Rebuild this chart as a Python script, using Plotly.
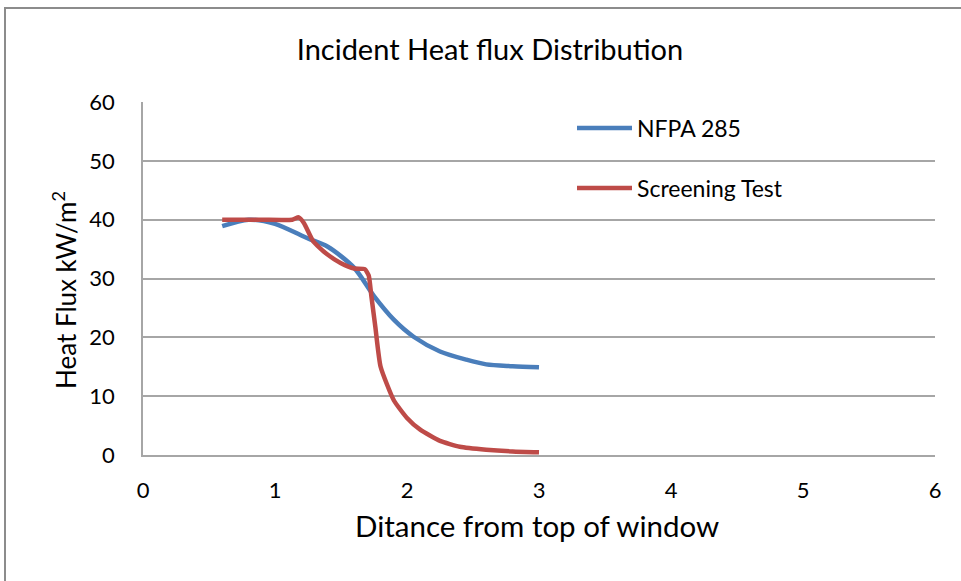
import plotly.graph_objects as go

# Data
nfpa_x = [0.6, 0.8, 1.0, 1.25, 1.4, 1.6, 1.75, 1.9, 2.05, 2.25, 2.45, 2.6, 2.8, 3.0]
nfpa_y = [38.9, 40.0, 39.3, 36.8, 35.4, 31.8, 27.0, 23.0, 20.1, 17.6, 16.2, 15.4, 15.1, 14.9]

screen_x = [0.6, 0.9, 1.13, 1.18, 1.22, 1.29, 1.39, 1.5, 1.6, 1.68, 1.71, 1.73, 1.76, 1.8, 1.9, 2.0, 2.1, 2.25, 2.4, 2.6, 2.8, 3.0]
screen_y = [40.0, 40.0, 40.0, 40.4, 39.4, 36.3, 34.2, 32.6, 31.7, 31.6, 30.5, 27.0, 21.8, 15.0, 9.3, 6.3, 4.3, 2.4, 1.4, 0.9, 0.6, 0.45]

x_ticks = [0, 1, 2, 3, 4, 5, 6]
y_ticks = [0, 10, 20, 30, 40, 50, 60]

FONT = "Lato"
W, H = 961, 581
L, R, T, B = 143, 26, 102, 126
pw, ph = W - L - R, H - T - B


def px_x(p):
    return (p - L) / pw


def px_y(p):
    return (T + ph - p) / ph


fig = go.Figure()
fig.add_trace(go.Scatter(x=nfpa_x, y=nfpa_y, mode="lines", name="NFPA 285",
                         line=dict(color="#4A7EBB", width=4.5, shape="spline", smoothing=0.8),
                         legend="legend"))
fig.add_trace(go.Scatter(x=screen_x, y=screen_y, mode="lines", name="Screening Test",
                         line=dict(color="#BE4B48", width=4.5, shape="spline", smoothing=0.5),
                         legend="legend2"))

leg_common = dict(xanchor="left", yanchor="middle", bgcolor="rgba(0,0,0,0)",
                  font=dict(size=23, family=FONT, color="black"), itemwidth=55)

fig.update_layout(
    width=W, height=H,
    margin=dict(l=L, r=R, t=T, b=B),
    paper_bgcolor="white", plot_bgcolor="white",
    font=dict(family=FONT, color="black"),
    title=dict(text="Incident Heat flux Distribution", x=490 / W, xanchor="center",
               y=1 - 50 / H, yanchor="middle", font=dict(size=29, family=FONT, color="black")),
    showlegend=True,
    legend=dict(x=px_x(572), y=px_y(128), **leg_common),
    legend2=dict(x=px_x(572), y=px_y(188), **leg_common),
    xaxis=dict(range=[0, 6], tickvals=x_ticks, showgrid=False, zeroline=False,
               showline=True, linecolor="#A6A6A6", linewidth=1.5,
               ticks="", tickfont=dict(size=22, family=FONT, color="black"),
               ticklabelstandoff=15),
    yaxis=dict(range=[0, 60], tickvals=y_ticks, showgrid=True, gridcolor="#A6A6A6", gridwidth=1.5,
               zeroline=False, showline=True, linecolor="#A6A6A6", linewidth=1.5,
               ticks="", tickfont=dict(size=22, family=FONT, color="black"),
               ticklabelstandoff=22),
    annotations=[
        dict(text="Ditance from top of window", xref="paper", yref="paper",
             x=px_x(537), y=px_y(525), xanchor="center", yanchor="middle", showarrow=False,
             font=dict(size=29.5, family=FONT, color="black")),
        dict(text="Heat Flux kW/m<sup>2</sup>", xref="paper", yref="paper", textangle=-90,
             x=px_x(64), y=px_y(290), xanchor="center", yanchor="middle", showarrow=False,
             font=dict(size=26, family=FONT, color="black")),
    ],
)

# outer chart border
fig.add_shape(type="rect", xref="paper", yref="paper",
              x0=px_x(5), x1=px_x(W + 20), y0=px_y(H + 20), y1=px_y(8),
              line=dict(color="#8C8C8C", width=2), fillcolor="rgba(0,0,0,0)", layer="below")

fig.write_html("out.html", config={"displayModeBar": False},
               post_script="document.body.style.margin='0';document.body.style.overflow='hidden';")
